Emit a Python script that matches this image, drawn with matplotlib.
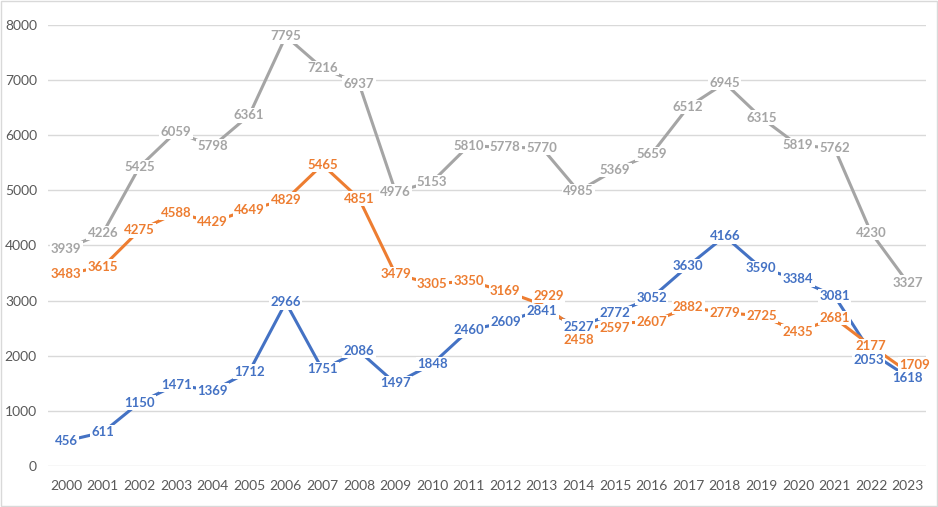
import matplotlib.pyplot as plt
from matplotlib.patches import Rectangle

plt.rcParams['font.family'] = ['Lato', 'DejaVu Sans']

years = list(range(2000, 2024))
blue_vals = [456, 611, 1150, 1471, 1369, 1712, 2966, 1751, 2086, 1497, 1848, 2460,
             2609, 2841, 2527, 2772, 3052, 3630, 4166, 3590, 3384, 3081, 2053, 1618]
orange_vals = [3483, 3615, 4275, 4588, 4429, 4649, 4829, 5465, 4851, 3479, 3305, 3350,
               3169, 2929, 2458, 2597, 2607, 2882, 2779, 2725, 2435, 2681, 2177, 1709]
gray_vals = [3939, 4226, 5425, 6059, 5798, 6361, 7795, 7216, 6937, 4976, 5153, 5810,
             5778, 5770, 4985, 5369, 5659, 6512, 6945, 6315, 5819, 5762, 4230, 3327]
y_ticks = [0, 1000, 2000, 3000, 4000, 5000, 6000, 7000, 8000]

# label nudges (points) where excel moved labels off the point
orange_nudge = {2013: (5, 6), 2014: (0, -7), 2015: (0, -4), 2023: (5, 5)}
blue_nudge = {2013: (0, -1.5), 2022: (-2, -5), 2023: (0, -1)}

series = [
    (blue_vals, '#4472C4', blue_nudge),
    (orange_vals, '#ED7D31', orange_nudge),
    (gray_vals, '#A5A5A5', {}),
]

fig = plt.figure(figsize=(9.38, 5.07), dpi=100)
ax = fig.add_axes([0.0512, 0.0809, 0.9360, 0.8700])

x = list(range(len(years)))
for vals, col, nudge in series:
    ax.plot(x, vals, color=col, lw=2.2, zorder=2, solid_capstyle='round')

for vals, col, nudge in series:
    for i, v in enumerate(vals):
        dx, dy = nudge.get(years[i], (0, 0))
        ax.annotate(str(v), (i, v), xytext=(dx, dy), textcoords='offset points',
                    ha='center', va='center', fontsize=9.5, color=col, fontweight='bold',
                    zorder=5,
                    bbox=dict(boxstyle='square,pad=0.1', fc='white', ec='none'))

ax.set_xlim(-0.5, len(years) - 0.5)
ax.set_ylim(0, 8000)
ax.set_yticks(y_ticks)
ax.set_xticks(x)
ax.set_xticklabels([str(y) for y in years])
ax.grid(axis='y', color='#D9D9D9', lw=1, zorder=0)
ax.set_axisbelow(True)
for s in ax.spines.values():
    s.set_visible(False)
ax.tick_params(axis='both', length=0, colors='#595959', labelsize=10)
ax.tick_params(axis='x', pad=10)
ax.tick_params(axis='y', pad=8)

fig.patches.append(Rectangle((0.001, 0.002), 0.998, 0.996, transform=fig.transFigure,
                             fill=False, ec='#D9D9D9', lw=1))

plt.savefig('out.png', dpi=100)
